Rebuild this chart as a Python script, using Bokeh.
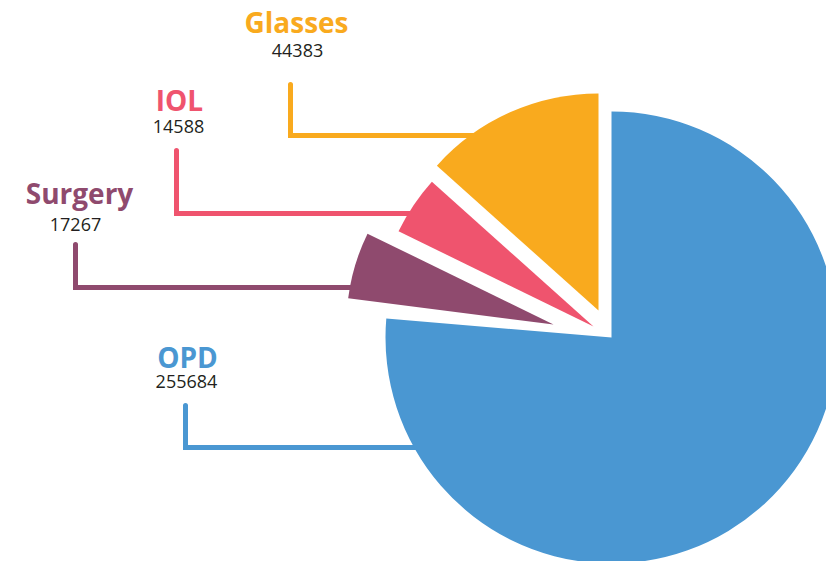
import math
from bokeh.plotting import figure
from bokeh.models import Range1d
from bokeh.core.properties import value
from bokeh.embed import file_html
from bokeh.resources import INLINE

# ---- data ----
categories = ["OPD", "Surgery", "IOL", "Glasses"]
counts = [255684, 17267, 14588, 44383]
value_labels = ["255684", "17267", "14588", "44383"]
colors = ["#4A97D2", "#8F4A6E", "#EF546E", "#F9AA1E"]

# ---- style / layout ----
offsets = [(0, 0), (-58, -13), (-18, -11), (-13, -27)]   # exploded offsets (screen px)
radii = [226, 207, 217, 217]
trim_end = [2.5, 0, 0, 0]          # small visual gap (degrees) at the clockwise end
CX, CY_SCREEN = 611, 337           # pie centre in screen px
# label positions (screen px) : name centre, value centre
name_pos = [(187, 356), (79, 192), (179, 99), (296, 21)]
val_pos = [(186, 381), (75, 224), (178, 126), (297, 50)]
# leader lines: (x vertical, y top, y horizontal, x end)
leaders = [(185, 405, 447, 520), (75, 244, 287, 420), (176, 150, 213, 430), (290, 84, 135, 520)]

W, H = 826, 561


def fy(sy):
    return H - sy


p = figure(width=W, height=H, output_backend="svg", toolbar_location=None,
           x_range=Range1d(0, W), y_range=Range1d(0, H),
           min_border=0, outline_line_color=None)
p.axis.visible = False
p.grid.visible = False
p.background_fill_color = "white"
p.border_fill_color = "white"

total = float(sum(counts))

# leader lines (drawn first, wedges cover their ends)
for (xv, yt, yh, xe), c in zip(leaders, colors):
    p.line([xv, xv, xe], [fy(yt), fy(yh), fy(yh)], line_color=c, line_width=5,
           line_cap="round", line_join="miter")

cum = 0.0
for cat, n, c, (dx, dy), r, tr in zip(categories, counts, colors, offsets, radii, trim_end):
    frac = n / total
    a0 = 90.0 - cum * 360.0
    a1 = 90.0 - (cum + frac) * 360.0 + tr
    cum += frac
    cx = CX + dx
    cy = fy(CY_SCREEN + dy)
    p.wedge(x=[cx], y=[cy], radius=r, start_angle=math.radians(a1),
            end_angle=math.radians(a0), direction="anticlock",
            fill_color=c, line_color=None)

for cat, v, c, (nx, ny), (vx, vy) in zip(categories, value_labels, colors, name_pos, val_pos):
    p.text(x=[nx], y=[fy(ny)], text=[cat], text_color=c, text_font=value("Open Sans"),
           text_font_style="bold", text_font_size="28px", text_align="center",
           text_baseline="middle")
    p.text(x=[vx], y=[fy(vy)], text=[v], text_color="#231F20", text_font=value("Open Sans"),
           text_font_size="18px", text_align="center", text_baseline="middle")

open("out.html", "w").write(file_html(p, INLINE))
